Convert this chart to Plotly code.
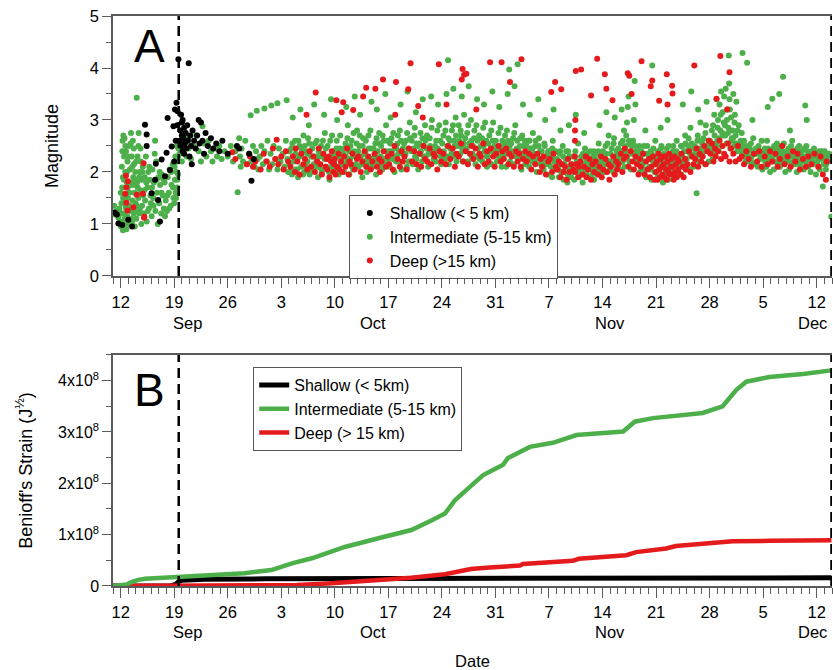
import pandas as pd
import plotly.graph_objects as go

BASE = pd.Timestamp("2021-09-11")

# ---------- Panel A: (days since 2021-09-11 00:00, magnitude) ----------
shallow_pts = [
    (0.2, 1.22), (0.5, 1.18), (0.7, 1.01), (1.2, 0.98), (2.5, 0.95), (2.0, 1.08),
    (4.18, 2.91), (4.4, 2.72), (4.4, 2.5), (5.05, 1.59), (5.5, 1.85), (5.6, 2.16),
    (5.9, 1.46), (6.14, 1.05), (6.36, 2.24), (6.8, 1.92), (7.0, 2.37), (7.14, 3.04),
    (7.45, 2.04), (7.67, 2.49), (7.9, 2.88), (8.0, 2.2), (8.1, 3.2), (8.2, 2.6),
    (8.3, 3.33), (8.4, 2.9), (8.45, 3.17), (8.55, 4.17),
    (8.7, 2.6), (8.8, 2.8), (8.9, 3.1), (8.9, 2.5), (9.0, 2.95), (9.0, 2.7),
    (9.1, 2.4), (9.1, 3.0), (9.2, 2.65), (9.3, 2.85), (9.3, 2.35), (9.4, 2.55),
    (9.5, 2.75), (9.6, 2.45), (9.7, 2.9), (9.8, 2.6), (9.9, 4.09), (10.0, 2.3),
    (10.1, 2.7), (10.2, 2.5), (10.3, 2.15), (10.4, 2.8), (10.6, 2.6), (10.8, 2.45),
    (11.0, 2.7), (11.2, 3.0), (11.3, 2.55), (11.5, 2.95), (11.7, 2.6), (11.9, 2.35),
    (12.1, 2.75), (12.4, 2.5), (12.8, 2.65), (13.1, 2.45), (13.5, 2.55), (13.9, 2.4),
    (14.3, 2.6), (15.0, 2.35), (16.2, 2.5), (16.5, 2.45), (17.8, 2.35), (18.1, 1.83),
    (18.4, 2.25),
]

intermediate_pts = [
    (0.15, 1.35), (0.3, 1.18), (0.5, 1.25), (0.7, 1.12), (0.85, 1.3), (0.95, 1.05),
    (1.05, 0.95), (1.1, 1.4), (1.15, 2.1), (1.2, 1.7), (1.25, 2.6), (1.3, 0.88),
    (1.3, 1.9), (1.35, 2.7), (1.4, 1.2), (1.45, 2.3), (1.5, 1.55), (1.5, 2.65),
    (1.55, 1.0), (1.6, 2.0), (1.65, 1.35), (1.7, 2.4), (1.75, 0.9), (1.8, 1.8),
    (1.85, 1.15), (1.9, 2.2), (1.95, 1.5),
    (1.02, 1.6), (1.12, 1.2), (1.22, 2.4), (1.32, 1.5), (1.42, 1.85), (1.52, 1.1),
    (1.62, 2.5), (1.72, 1.3), (1.82, 2.0), (1.92, 1.7),
    (2.05, 1.0), (2.1, 2.5), (2.15, 1.6), (2.2, 2.05), (2.3, 1.25), (2.35, 2.75),
    (2.4, 1.8), (2.45, 2.3), (2.5, 1.05), (2.55, 1.45), (2.6, 2.6), (2.65, 1.9),
    (2.7, 1.2), (2.75, 2.15), (2.8, 1.6), (2.85, 0.95), (2.9, 2.0), (2.95, 1.4),
    (2.02, 2.3), (2.12, 1.35), (2.22, 1.75), (2.32, 2.55), (2.42, 1.1), (2.52, 2.1),
    (2.62, 1.75), (2.72, 2.45), (2.82, 1.85), (2.92, 1.25),
    (3.05, 1.1), (3.1, 3.43), (3.15, 1.8), (3.2, 2.3), (3.3, 1.5), (3.35, 2.75),
    (3.4, 1.2), (3.5, 2.0), (3.55, 1.65), (3.6, 2.45), (3.7, 1.0), (3.75, 1.85),
    (3.8, 1.35), (3.9, 2.1), (3.95, 1.55),
    (3.02, 2.2), (3.12, 1.35), (3.22, 1.7), (3.32, 2.5), (3.42, 1.9), (3.52, 1.3),
    (3.62, 2.2), (3.72, 1.6), (3.82, 2.0), (3.92, 1.2),
    (4.05, 1.2), (4.15, 1.9), (4.2, 1.45), (4.3, 2.3), (4.4, 1.05), (4.5, 1.7),
    (4.6, 2.0), (4.7, 1.3), (4.8, 1.85), (4.9, 1.55),
    (4.1, 1.65), (4.35, 1.8), (4.55, 1.25), (4.75, 2.1), (4.95, 1.4),
    (5.05, 1.15), (5.15, 2.05), (5.25, 1.5), (5.35, 1.8), (5.5, 2.6), (5.55, 1.25),
    (5.65, 2.2), (5.75, 1.6), (5.85, 1.0), (5.95, 1.9),
    (5.1, 1.7), (5.3, 1.35), (5.45, 2.35), (5.7, 1.85), (5.9, 1.45),
    (6.05, 1.4), (6.15, 1.75), (6.3, 1.2), (6.4, 1.95), (6.5, 1.55), (6.65, 1.3),
    (6.75, 1.8), (6.9, 1.45), (6.1, 2.0), (6.35, 1.6), (6.6, 1.85), (6.8, 1.15),
    (7.05, 1.25), (7.15, 1.9), (7.3, 1.6), (7.4, 2.05), (7.55, 1.35), (7.65, 1.75),
    (7.8, 2.15), (7.9, 1.5), (7.1, 1.55), (7.35, 1.3), (7.6, 2.0), (7.85, 1.7),
    (8.0, 1.4), (8.1, 1.85), (8.15, 2.3), (8.2, 1.6), (8.3, 2.0), (8.35, 2.5),
    (8.4, 1.7), (8.45, 2.2), (8.5, 1.95), (8.55, 2.45),
    (8.05, 2.1), (8.25, 1.5), (8.42, 1.85), (8.52, 2.3),
    (8.7, 2.35), (8.8, 2.55), (9.0, 2.2), (9.2, 2.45), (9.4, 2.6), (9.6, 2.3),
    (9.8, 2.65), (9.9, 2.45),
    (10.2, 2.25), (10.5, 2.5), (10.9, 2.7), (11.2, 2.4), (11.5, 2.2), (11.7, 2.88),
    (11.9, 2.55), (12.2, 2.3), (12.5, 2.6), (12.8, 2.4), (13.0, 2.2),
    (13.3, 2.45), (13.6, 2.3), (13.9, 2.5), (14.2, 2.25), (14.6, 2.4), (15.0, 2.3),
    (15.4, 2.5), (15.7, 2.2), (16.0, 2.4), (16.3, 1.61), (16.5, 2.65),
    (16.6, 2.3), (16.7, 2.1), (16.8, 2.45), (17.0, 2.2), (17.3, 2.6), (17.5, 2.15),
    (17.8, 2.35), (18.0, 3.09), (18.1, 2.2), (18.3, 2.5), (18.5, 2.1), (18.7, 2.4),
    (18.8, 3.18), (18.9, 2.25),
    (19.0, 2.05), (19.2, 2.3), (19.4, 2.5), (19.8, 3.22), (19.6, 2.15), (19.8, 2.4),
    (20.0, 2.2), (20.2, 2.6), (20.7, 3.28), (20.4, 2.05), (20.6, 2.35), (20.8, 2.15),
    (21.0, 2.5), (21.5, 3.32), (21.3, 2.25), (21.5, 2.05), (21.7, 2.45), (21.9, 2.2),
    (22.7, 3.38), (22.2, 2.35), (22.4, 2.1), (22.6, 2.6), (22.8, 2.25), (22.9, 2.0),
    (23.1, 2.15), (23.3, 2.45), (23.4, 1.95), (23.6, 2.3), (23.8, 2.6), (23.9, 2.05), (23.5, 3.05),
    (24.1, 2.25), (24.2, 1.9), (24.4, 2.5), (24.6, 2.1), (24.7, 2.35), (24.9, 2.7), (24.5, 3.2),
    (25.0, 2.0), (25.2, 2.4), (25.4, 2.2), (25.5, 2.65), (25.7, 1.95), (25.9, 2.3), (25.6, 2.9),
    (26.1, 2.3), (26.2, 2.05), (26.4, 2.55), (26.6, 2.2), (26.8, 1.9), (26.9, 2.4), (26.3, 3.3),
    (27.0, 2.15), (27.2, 2.5), (27.3, 2.0), (27.5, 2.35), (27.7, 2.75), (27.9, 2.1), (27.6, 3.1),
    (28.1, 2.25), (28.3, 1.85), (28.4, 2.6), (28.6, 2.1), (28.8, 2.4), (28.9, 2.2), (28.5, 3.4),
    (29.0, 2.05), (29.2, 2.45), (29.4, 2.3), (29.5, 1.95), (29.7, 2.7), (29.9, 2.15), (29.3, 3.0),
    (30.1, 2.35), (30.2, 2.0), (30.4, 2.55), (30.6, 2.2), (30.7, 2.9), (30.9, 1.95), (30.5, 3.25),
    (31.0, 2.25), (31.2, 2.6), (31.4, 2.05), (31.5, 2.4), (31.7, 2.15), (31.9, 2.8), (31.6, 3.45),
    (32.1, 2.1), (32.2, 2.5), (32.4, 2.3), (32.6, 1.9), (32.7, 2.65), (32.9, 2.2), (32.3, 3.1),
    (33.0, 2.35), (33.2, 2.0), (33.4, 2.7), (33.5, 2.15), (33.7, 2.45), (33.9, 2.25), (33.8, 3.35),
    (34.1, 2.2), (34.3, 2.55), (34.4, 1.95), (34.6, 2.4), (34.8, 2.75), (34.9, 2.1), (34.5, 3.2),
    (35.0, 2.3), (35.2, 2.05), (35.4, 2.6), (35.5, 2.25), (35.7, 2.9), (35.9, 2.15), (35.6, 3.5),
    (36.1, 2.4), (36.2, 2.1), (36.4, 2.65), (36.6, 2.25), (36.8, 2.0), (36.9, 2.5), (36.3, 3.05),
    (37.0, 2.2), (37.2, 2.55), (37.3, 2.35), (37.5, 2.8), (37.7, 2.05), (37.9, 2.45), (37.6, 3.3),
    (38.1, 2.3), (38.3, 2.6), (38.4, 2.1), (38.6, 2.45), (38.8, 2.95), (38.9, 2.2), (38.5, 3.55),
    (39.0, 2.4), (39.2, 2.15), (39.4, 2.7), (39.5, 2.3), (39.7, 2.55), (39.9, 2.05), (39.6, 3.15),
    (40.1, 2.35), (40.2, 2.75), (40.4, 2.2), (40.6, 2.5), (40.8, 2.9), (40.9, 2.3), (40.5, 3.4),
    (41.0, 2.45), (41.2, 2.1), (41.4, 2.65), (41.5, 2.35), (41.7, 3.0), (41.9, 2.25), (41.6, 3.45),
    (42.1, 2.5), (42.2, 2.2), (42.4, 2.8), (42.6, 2.4), (42.8, 2.6), (42.9, 2.15), (42.5, 3.3),
    (43.0, 2.35), (43.2, 2.7), (43.4, 2.25), (43.5, 2.95), (43.7, 2.5), (43.8, 4.15), (43.9, 2.15), (43.6, 3.5),
    (44.1, 2.45), (44.3, 2.8), (44.4, 2.3), (44.6, 2.6), (44.8, 3.05), (44.9, 2.2), (44.5, 3.6),
    (45.0, 2.5), (45.2, 2.9), (45.4, 2.35), (45.5, 2.7), (45.7, 2.2), (45.9, 3.1), (45.6, 3.45),
    (46.1, 2.4), (46.3, 2.75), (46.4, 2.2), (46.6, 2.55), (46.8, 3.0), (46.9, 2.3), (46.5, 3.65),
    (47.0, 2.35), (47.2, 2.65), (47.4, 2.15), (47.5, 2.9), (47.7, 2.45), (47.9, 2.25), (47.6, 3.4),
    (48.1, 2.5), (48.3, 2.2), (48.4, 2.85), (48.6, 2.4), (48.8, 2.6), (48.9, 2.1), (48.5, 3.3),
    (49.0, 2.3), (49.2, 2.7), (49.4, 2.45), (49.5, 2.15), (49.7, 2.95), (49.9, 2.35), (49.6, 3.55),
    (50.1, 2.4), (50.2, 2.2), (50.4, 2.75), (50.6, 2.5), (50.8, 2.1), (50.9, 2.6), (50.5, 3.25),
    (51.0, 2.3), (51.2, 2.55), (51.4, 2.1), (51.5, 2.8), (51.7, 2.4), (51.8, 3.97), (51.9, 2.2), (51.6, 3.5),
    (52.1, 2.35), (52.3, 2.65), (52.4, 2.15), (52.6, 2.9), (52.8, 2.45), (52.9, 4.07), (52.5, 3.65),
    (53.0, 2.25), (53.2, 2.5), (53.4, 2.05), (53.5, 2.7), (53.7, 2.35), (53.9, 2.15), (53.6, 3.3),
    (54.1, 2.3), (54.3, 2.6), (54.4, 2.1), (54.6, 2.45), (54.8, 2.2), (54.9, 2.75), (54.5, 3.1),
    (55.0, 2.2), (55.2, 2.5), (55.4, 2.0), (55.5, 2.35), (55.7, 2.65), (55.9, 2.15), (55.6, 3.4),
    (56.1, 2.25), (56.3, 2.05), (56.4, 2.55), (56.6, 2.3), (56.8, 1.95), (56.9, 2.4), (56.5, 3.0),
    (57.0, 2.15), (57.2, 2.4), (57.4, 1.9), (57.5, 2.6), (57.7, 2.2), (57.9, 2.05), (57.6, 3.2),
    (58.1, 2.1), (58.3, 1.9), (58.4, 2.35), (58.6, 2.0), (58.8, 2.5), (58.9, 1.85), (58.5, 2.8),
    (59.0, 2.0), (59.2, 2.25), (59.4, 1.8), (59.5, 2.4), (59.7, 2.05), (59.9, 1.9), (59.6, 2.9),
    (60.1, 2.15), (60.3, 1.85), (60.4, 2.3), (60.6, 2.0), (60.8, 2.55), (60.9, 1.9), (60.5, 3.1),
    (61.0, 2.05), (61.2, 2.3), (61.4, 1.8), (61.5, 2.15), (61.7, 2.45), (61.9, 1.95), (61.6, 2.75),
    (62.1, 2.2), (62.3, 1.9), (62.4, 2.4), (62.6, 2.05), (62.8, 2.3), (62.9, 1.85),
    (63.0, 2.1), (63.2, 2.35), (63.4, 1.95), (63.5, 2.55), (63.7, 2.2), (63.9, 2.0), (63.6, 2.9),
    (64.1, 2.25), (64.3, 2.0), (64.4, 2.5), (64.6, 2.15), (64.8, 2.7), (64.9, 2.05), (64.5, 3.15),
    (65.0, 2.2), (65.2, 2.45), (65.4, 2.0), (65.5, 2.65), (65.7, 2.3), (65.9, 2.1), (65.6, 3.05),
    (66.1, 2.3), (66.3, 2.05), (66.4, 2.55), (66.6, 2.2), (66.8, 2.8), (66.9, 2.1), (66.5, 3.2),
    (67.0, 2.4), (67.1, 2.7), (67.2, 2.95), (67.3, 3.25), (67.4, 3.45), (67.5, 2.2), (67.6, 2.55),
    (67.7, 2.05), (67.9, 2.35),
    (68.0, 2.6), (68.1, 3.0), (68.2, 3.75), (68.3, 3.3), (68.4, 2.4), (68.6, 2.15), (68.8, 2.5), (68.9, 2.0),
    (69.0, 2.25), (69.2, 2.05), (69.4, 2.5), (69.5, 2.2), (69.7, 1.9), (69.9, 2.35), (69.6, 2.8),
    (70.1, 2.1), (70.3, 2.4), (70.4, 1.85), (70.5, 4.05), (70.6, 2.2), (70.8, 2.0), (70.9, 2.6),
    (71.0, 2.15), (71.2, 1.9), (71.4, 2.35), (71.5, 2.05), (71.7, 2.5), (71.9, 1.8), (71.6, 2.85),
    (72.1, 2.2), (72.3, 2.0), (72.4, 2.45), (72.6, 1.85), (72.8, 2.3), (72.9, 2.05), (72.5, 3.0),
    (73.0, 2.1), (73.2, 2.4), (73.4, 1.9), (73.5, 2.25), (73.7, 2.6), (73.9, 2.0),
    (74.1, 2.15), (74.3, 1.95), (74.4, 2.5), (74.6, 2.2), (74.8, 2.7), (74.9, 2.05), (74.5, 3.3),
    (75.0, 2.25), (75.2, 2.5), (75.4, 2.05), (75.5, 2.85), (75.6, 3.55), (75.7, 2.3), (75.9, 2.1),
    (76.1, 2.35), (76.3, 1.59), (76.4, 2.6), (76.6, 2.2), (76.8, 2.95), (76.9, 2.4), (76.5, 3.2),
    (77.0, 2.3), (77.2, 2.65), (77.4, 2.15), (77.5, 2.9), (77.7, 2.4), (77.9, 2.2), (77.6, 3.35),
    (78.1, 2.45), (78.3, 2.8), (78.4, 2.25), (78.6, 3.1), (78.8, 2.55), (78.9, 3.4), (78.5, 2.35),
    (79.0, 2.6), (79.1, 3.0), (79.2, 2.4), (79.3, 3.3), (79.4, 2.8), (79.5, 3.55), (79.6, 2.5),
    (79.7, 3.15), (79.8, 2.7), (79.9, 3.45),
    (80.0, 2.9), (80.1, 3.6), (80.2, 2.55), (80.3, 3.2), (80.4, 2.75), (80.5, 4.24), (80.6, 3.4),
    (80.7, 2.45), (80.8, 3.05), (80.9, 2.65), (80.55, 3.7),
    (81.0, 2.8), (81.1, 3.5), (81.2, 2.5), (81.3, 3.1), (81.4, 2.7), (81.5, 3.35), (81.6, 2.4),
    (81.8, 2.9), (81.9, 2.55),
    (82.0, 2.45), (82.2, 2.75), (82.3, 4.29), (82.4, 2.35), (82.5, 2.6), (82.7, 2.2), (82.9, 4.1), (82.8, 2.5),
    (83.0, 2.4), (83.2, 2.2), (83.4, 2.55), (83.5, 2.3), (83.7, 2.65), (83.9, 2.15), (83.6, 3.0),
    (84.1, 2.35), (84.3, 2.1), (84.4, 2.5), (84.6, 2.25), (84.8, 2.6), (84.9, 2.05),
    (85.0, 2.3), (85.2, 2.45), (85.4, 2.1), (85.5, 2.6), (85.7, 2.25), (85.9, 2.0), (85.6, 3.25),
    (86.1, 2.2), (86.2, 3.41), (86.3, 2.45), (86.4, 2.05), (86.6, 2.35), (86.8, 2.55), (86.9, 2.15),
    (87.0, 2.3), (87.1, 3.5), (87.2, 2.1), (87.4, 2.4), (87.6, 3.83), (87.5, 2.2), (87.7, 2.55), (87.9, 2.0),
    (88.1, 2.25), (88.3, 2.45), (88.4, 2.05), (88.6, 2.3), (88.8, 2.6), (88.9, 2.15), (88.5, 2.8),
    (89.0, 2.2), (89.2, 2.4), (89.4, 2.0), (89.5, 2.3), (89.7, 2.5), (89.9, 2.1),
    (90.1, 2.3), (90.3, 2.05), (90.4, 2.45), (90.5, 3.28), (90.6, 2.2), (90.7, 3.0), (90.8, 2.4), (90.9, 2.1),
    (91.0, 2.25), (91.2, 2.0), (91.4, 2.4), (91.5, 2.15), (91.7, 2.35), (91.9, 1.95),
    (92.1, 2.2), (92.3, 2.4), (92.4, 2.05), (92.6, 2.3), (92.8, 1.72), (92.9, 2.15),
    (93.0, 2.25), (93.2, 2.05), (93.4, 2.3), (93.9, 1.14),
    # denser core of the band
    (23.05, 2.4), (23.25, 2.0), (23.45, 2.55), (23.65, 2.2), (23.85, 2.35),
    (24.05, 2.05), (24.25, 2.6), (24.45, 2.3), (24.65, 2.45), (24.85, 1.95),
    (25.05, 2.5), (25.25, 2.1), (25.45, 2.35), (25.65, 2.55), (25.85, 2.0),
    (26.05, 2.45), (26.25, 2.15), (26.45, 2.3), (26.65, 2.6), (26.85, 2.1),
    (27.05, 2.3), (27.25, 2.05), (27.45, 2.6), (27.65, 2.25), (27.85, 2.45),
    (28.05, 2.5), (28.25, 2.0), (28.45, 2.3), (28.65, 2.7), (28.85, 2.15),
    (29.05, 2.35), (29.25, 2.6), (29.45, 2.1), (29.65, 2.45), (29.85, 2.25),
    (30.05, 2.15), (30.25, 2.45), (30.45, 2.3), (30.65, 2.65), (30.85, 2.4),
    (31.05, 2.5), (31.25, 2.1), (31.45, 2.75), (31.65, 2.3), (31.85, 2.55),
    (32.05, 2.4), (32.25, 2.7), (32.45, 2.15), (32.65, 2.5), (32.85, 2.35),
    (33.05, 2.6), (33.25, 2.25), (33.45, 2.45), (33.65, 2.8), (33.85, 2.1),
    (34.05, 2.45), (34.25, 2.3), (34.45, 2.65), (34.65, 2.2), (34.85, 2.55),
    (35.05, 2.5), (35.25, 2.7), (35.45, 2.15), (35.65, 2.4), (35.85, 2.6),
    (36.05, 2.25), (36.25, 2.55), (36.45, 2.4), (36.65, 2.75), (36.85, 2.3),
    (37.05, 2.45), (37.25, 2.7), (37.45, 2.2), (37.65, 2.6), (37.85, 2.35),
    (38.05, 2.55), (38.25, 2.35), (38.45, 2.75), (38.65, 2.2), (38.85, 2.65),
    (39.05, 2.6), (39.25, 2.45), (39.45, 2.85), (39.65, 2.25), (39.85, 2.5),
    (40.05, 2.55), (40.25, 2.4), (40.45, 2.65), (40.65, 2.3), (40.85, 2.6),
    (41.05, 2.7), (41.25, 2.35), (41.45, 2.5), (41.65, 2.85), (41.85, 2.4),
    (42.05, 2.35), (42.25, 2.6), (42.45, 2.45), (42.65, 2.9), (42.85, 2.3),
    (43.05, 2.55), (43.25, 2.4), (43.45, 2.8), (43.65, 2.3), (43.85, 2.65),
    (44.05, 2.6), (44.25, 2.35), (44.45, 2.9), (44.65, 2.5), (44.85, 2.7),
    (45.05, 2.3), (45.25, 2.6), (45.45, 2.8), (45.65, 2.45), (45.85, 2.55),
    (46.05, 2.65), (46.25, 2.45), (46.45, 2.9), (46.65, 2.35), (46.85, 2.6),
    (47.05, 2.5), (47.25, 2.8), (47.45, 2.3), (47.65, 2.6), (47.85, 2.7),
    (48.05, 2.35), (48.25, 2.65), (48.45, 2.5), (48.65, 2.95), (48.85, 2.3),
    (49.05, 2.55), (49.25, 2.4), (49.45, 2.8), (49.65, 2.6), (49.85, 2.5),
    (50.05, 2.6), (50.25, 2.45), (50.45, 2.3), (50.65, 2.85), (50.85, 2.4),
    (51.05, 2.45), (51.25, 2.7), (51.45, 2.35), (51.65, 2.6), (51.85, 2.5),
    (52.05, 2.55), (52.25, 2.4), (52.45, 2.75), (52.65, 2.3), (52.85, 2.6),
    (53.05, 2.4), (53.25, 2.65), (53.45, 2.3), (53.65, 2.5), (53.85, 2.6),
    (54.05, 2.5), (54.25, 2.35), (54.45, 2.6), (54.65, 2.25), (54.85, 2.45),
    (55.05, 2.35), (55.25, 2.6), (55.45, 2.25), (55.65, 2.5), (55.85, 2.4),
    (56.05, 2.4), (56.25, 2.2), (56.45, 2.5), (56.65, 2.15), (56.85, 2.35),
    (57.05, 2.3), (57.25, 2.1), (57.45, 2.45), (57.65, 2.25), (57.85, 2.4),
    (58.05, 2.25), (58.25, 2.05), (58.45, 2.4), (58.65, 2.15), (58.85, 2.3),
    (59.05, 2.15), (59.25, 2.4), (59.45, 1.95), (59.65, 2.3), (59.85, 2.1),
    (60.05, 2.3), (60.25, 2.0), (60.45, 2.4), (60.65, 2.2), (60.85, 2.05),
    (61.05, 2.2), (61.25, 1.95), (61.45, 2.35), (61.65, 2.05), (61.85, 2.25),
    (62.05, 2.35), (62.25, 2.1), (62.45, 2.2), (62.65, 1.95), (62.85, 2.4),
    (63.05, 2.25), (63.25, 2.05), (63.45, 2.4), (63.65, 2.15), (63.85, 2.3),
    (64.05, 2.4), (64.25, 2.15), (64.45, 2.35), (64.65, 2.55), (64.85, 2.2),
    (65.05, 2.35), (65.25, 2.15), (65.45, 2.55), (65.65, 2.25), (65.85, 2.4),
    (66.05, 2.45), (66.25, 2.2), (66.45, 2.4), (66.65, 2.6), (66.85, 2.3),
    (67.05, 2.5), (67.25, 2.3), (67.45, 2.6), (67.65, 2.4), (67.85, 2.5),
    (68.05, 2.35), (68.25, 2.5), (68.45, 2.25), (68.65, 2.4), (68.85, 2.3),
    (69.05, 2.4), (69.25, 2.15), (69.45, 2.35), (69.65, 2.05), (69.85, 2.5),
    (70.05, 2.3), (70.25, 2.05), (70.45, 2.35), (70.65, 2.45), (70.85, 2.25),
    (71.05, 2.3), (71.25, 2.4), (71.45, 2.2), (71.65, 2.45), (71.85, 2.1),
    (72.05, 2.35), (72.25, 2.15), (72.45, 2.3), (72.65, 2.5), (72.85, 2.2),
    (73.05, 2.3), (73.25, 2.5), (73.45, 2.15), (73.65, 2.4), (73.85, 2.35),
    (74.05, 2.35), (74.25, 2.5), (74.45, 2.3), (74.65, 2.4), (74.85, 2.55),
    (75.05, 2.4), (75.25, 2.65), (75.45, 2.35), (75.65, 2.55), (75.85, 2.45),
    (76.05, 2.5), (76.25, 2.3), (76.45, 2.7), (76.65, 2.45), (76.85, 2.6),
    (77.05, 2.55), (77.25, 2.4), (77.45, 2.75), (77.65, 2.5), (77.85, 2.6),
    (78.05, 2.6), (78.25, 2.45), (78.45, 2.9), (78.65, 2.7), (78.85, 2.5),
    (79.05, 2.85), (79.25, 2.65), (79.45, 3.1), (79.65, 2.75), (79.85, 2.95),
    (80.05, 2.7), (80.25, 3.0), (80.45, 2.85), (80.65, 3.2), (80.85, 2.6),
    (81.05, 2.65), (81.25, 2.95), (81.45, 2.55), (81.65, 2.8), (81.85, 2.45),
    (82.05, 2.6), (82.25, 2.35), (82.45, 2.5), (82.65, 2.4), (82.85, 2.3),
    (83.05, 2.3), (83.25, 2.45), (83.45, 2.2), (83.65, 2.4), (83.85, 2.35),
    (84.05, 2.45), (84.25, 2.2), (84.45, 2.35), (84.65, 2.4), (84.85, 2.3),
    (85.05, 2.4), (85.25, 2.2), (85.45, 2.35), (85.65, 2.45), (85.85, 2.3),
    (86.05, 2.35), (86.25, 2.3), (86.45, 2.5), (86.65, 2.2), (86.85, 2.4),
    (87.05, 2.45), (87.25, 2.3), (87.45, 2.5), (87.65, 2.35), (87.85, 2.25),
    (88.05, 2.4), (88.25, 2.2), (88.45, 2.35), (88.65, 2.5), (88.85, 2.3),
    (89.05, 2.35), (89.25, 2.15), (89.45, 2.45), (89.65, 2.2), (89.85, 2.35),
    (90.05, 2.4), (90.25, 2.2), (90.45, 2.3), (90.65, 2.5), (90.85, 2.25),
    (91.05, 2.35), (91.25, 2.3), (91.45, 2.2), (91.65, 2.45), (91.85, 2.3),
    (92.05, 2.35), (92.25, 2.1), (92.45, 2.25), (92.65, 2.4), (92.85, 2.3),
    (93.05, 2.4), (93.25, 2.15), (93.45, 2.2), (93.65, 2.35),
]

deep_pts = [
    (1.7, 1.93), (1.75, 1.70), (1.6, 1.58), (1.75, 1.41), (1.9, 1.26), (2.66, 1.32),
    (1.95, 1.82), (3.1, 1.56), (3.9, 1.58), (4.0, 2.17), (4.1, 1.14), (4.05, 1.12),
    (15.6, 2.38), (16.0, 2.25), (17.5, 2.15), (17.9, 2.3), (18.3, 2.1), (18.6, 2.2),
    (19.3, 2.05), (19.7, 2.35), (20.1, 2.2), (20.5, 2.1), (20.9, 2.45), (21.2, 2.25),
    (21.4, 2.62), (21.6, 2.15), (22.0, 2.3), (22.3, 2.05), (22.6, 2.4), (22.9, 2.2),
    (23.2, 2.1), (23.5, 2.3), (23.8, 2.0), (23.9, 2.45),
    (24.1, 2.2), (24.4, 1.95), (24.6, 2.35), (24.9, 2.15),
    (25.1, 2.25), (25.3, 3.1), (25.4, 2.05), (25.7, 2.4), (25.9, 2.1),
    (26.2, 2.3), (26.5, 3.53), (26.4, 2.0), (26.7, 2.2), (26.9, 2.45),
    (27.1, 2.15), (27.3, 1.95), (27.5, 2.35), (27.8, 2.1), (27.9, 2.25),
    (28.0, 2.05), (28.2, 2.3), (28.3, 1.9), (28.5, 2.2), (28.6, 2.4), (28.8, 2.0), (28.9, 2.15),
    (29.0, 2.25), (29.1, 1.95), (29.2, 3.38), (29.3, 2.1), (29.5, 2.35), (29.6, 2.05), (29.8, 2.2), (29.9, 3.15),
    (30.0, 2.0), (30.1, 3.34), (30.2, 2.3), (30.4, 2.1), (30.6, 2.45), (30.8, 1.95), (30.9, 2.2),
    (31.1, 2.15), (31.3, 2.35), (31.4, 3.19), (31.6, 2.05), (31.9, 2.25),
    (32.1, 2.3), (32.4, 2.0), (32.7, 3.45), (32.6, 2.2), (32.9, 2.4),
    (33.1, 2.1), (33.1, 3.62), (33.4, 2.3), (33.7, 2.05), (33.9, 2.2),
    (34.2, 2.35), (34.3, 3.6), (34.5, 2.1), (34.8, 2.25), (34.9, 2.0),
    (35.1, 2.2), (35.3, 3.78), (35.4, 2.4), (35.7, 2.1), (35.9, 2.3),
    (36.1, 2.15), (36.4, 2.35), (36.6, 2.05), (36.8, 2.5), (36.9, 3.1),
    (37.0, 3.73), (37.2, 2.25), (37.5, 2.1), (37.7, 2.4), (37.9, 2.2),
    (38.1, 2.3), (38.4, 2.05), (38.6, 3.59), (38.7, 2.45), (38.9, 4.09),
    (39.1, 2.2), (39.4, 2.4), (39.7, 2.15), (39.9, 3.27),
    (40.1, 2.35), (40.3, 2.1), (40.6, 2.5), (40.8, 2.25), (40.5, 3.05),
    (41.1, 2.2), (41.4, 2.45), (41.6, 2.15), (41.9, 2.35),
    (42.1, 2.3), (42.4, 2.05), (42.6, 4.07), (42.7, 2.4), (42.9, 2.2),
    (43.2, 2.35), (43.5, 2.15), (43.8, 2.5), (43.6, 3.3),
    (44.1, 2.25), (44.4, 2.45), (44.7, 2.1), (44.9, 2.35),
    (45.2, 2.3), (45.5, 2.55), (45.7, 3.98), (45.8, 2.2), (45.6, 3.78), (45.9, 3.87),
    (46.1, 2.4), (46.2, 3.89), (46.4, 2.15), (46.7, 2.35), (46.9, 2.5),
    (47.1, 2.25), (47.4, 2.45), (47.7, 2.1), (47.9, 2.35), (47.5, 3.2),
    (48.1, 2.3), (48.4, 2.55), (48.6, 2.15), (48.9, 2.4),
    (49.1, 2.2), (49.3, 4.11), (49.4, 2.45), (49.7, 2.3), (49.9, 2.1),
    (50.1, 2.35), (50.4, 2.5), (50.7, 2.2), (50.8, 4.11), (50.9, 2.4),
    (51.1, 2.25), (51.4, 2.45), (51.7, 2.15), (51.9, 3.73), (51.8, 2.35),
    (52.1, 2.3), (52.4, 2.1), (52.7, 2.4), (52.9, 2.2),
    (53.1, 2.35), (53.4, 4.17), (53.3, 2.1), (53.6, 2.25), (53.9, 2.4),
    (54.1, 2.2), (54.4, 2.35), (54.7, 2.05), (54.9, 2.3),
    (55.2, 2.15), (55.5, 2.35), (55.8, 2.0), (55.9, 2.25),
    (56.1, 2.1), (56.3, 2.3), (56.6, 1.95), (56.9, 2.2),
    (57.1, 2.25), (57.4, 2.0), (57.6, 2.35), (57.8, 3.73), (57.9, 2.1), (57.3, 3.54),
    (58.1, 2.05), (58.3, 2.2), (58.5, 1.9), (58.7, 2.15), (58.9, 2.0), (58.6, 3.59),
    (59.1, 2.1), (59.3, 1.85), (59.5, 2.25), (59.7, 2.0), (59.9, 2.15),
    (60.2, 2.05), (60.35, 2.3), (60.4, 2.6), (60.4, 2.8), (60.45, 3.0), (60.4, 2.0),
    (60.5, 3.94), (60.6, 2.15), (60.8, 1.9), (60.9, 2.1),
    (61.1, 2.2), (61.2, 3.97), (61.4, 1.95), (61.6, 2.1), (61.8, 2.3), (61.9, 1.9),
    (62.1, 2.05), (62.3, 2.25), (62.5, 1.85), (62.7, 2.15), (62.9, 2.0), (62.5, 3.47),
    (63.1, 2.2), (63.3, 4.18), (63.4, 1.95), (63.6, 2.1), (63.8, 2.3), (63.9, 1.9),
    (64.1, 2.05), (64.3, 3.88), (64.4, 2.25), (64.5, 3.6), (64.6, 2.0), (64.8, 2.15), (64.9, 1.85),
    (65.1, 2.1), (65.3, 3.38), (65.4, 2.3), (65.6, 1.95), (65.8, 2.2), (65.9, 2.05),
    (66.1, 2.15), (66.4, 2.35), (66.6, 2.0), (66.8, 2.25), (66.9, 2.45),
    (67.1, 2.3), (67.3, 3.9), (67.5, 3.85), (67.4, 2.1), (67.7, 2.4), (67.8, 3.5), (67.9, 2.2),
    (68.1, 2.05), (68.3, 2.3), (68.5, 2.15), (68.7, 1.95), (68.9, 2.25),
    (69.1, 4.13), (69.0, 2.1), (69.3, 2.35), (69.5, 1.95), (69.7, 2.2), (69.9, 2.05),
    (70.1, 2.25), (70.2, 1.9), (70.4, 2.1), (70.5, 3.76), (70.3, 3.65), (70.6, 2.3), (70.8, 1.85), (70.9, 2.15),
    (71.0, 2.0), (71.1, 2.2), (71.2, 1.85), (71.3, 2.35), (71.4, 2.05), (71.5, 1.9), (71.6, 2.25),
    (71.7, 2.1), (71.8, 1.95), (71.9, 2.3), (71.4, 3.37),
    (72.0, 2.15), (72.1, 1.9), (72.2, 2.3), (72.3, 2.05), (72.4, 3.88), (72.4, 1.85), (72.5, 2.2),
    (72.6, 2.0), (72.7, 2.35), (72.8, 1.95), (72.9, 2.1), (72.5, 3.3),
    (73.0, 2.25), (73.1, 3.66), (73.15, 3.51), (73.1, 1.95), (73.2, 2.1), (73.3, 1.85), (73.4, 2.3),
    (73.5, 2.0), (73.6, 2.15), (73.7, 1.9), (73.8, 2.25), (73.9, 2.05),
    (74.0, 2.2), (74.2, 1.95), (74.3, 2.35), (74.5, 2.1), (74.6, 1.9), (74.8, 2.25), (74.9, 2.05),
    (75.1, 2.15), (75.3, 2.4), (75.5, 2.0), (75.7, 2.3), (75.9, 2.15),
    (76.0, 4.05), (76.1, 2.25), (76.3, 2.45), (76.5, 2.1), (76.7, 2.35), (76.9, 2.2),
    (77.1, 2.3), (77.3, 2.5), (77.5, 2.15), (77.7, 2.4), (77.9, 2.6),
    (78.1, 2.35), (78.3, 2.55), (78.5, 2.2), (78.7, 2.45), (78.9, 3.41), (78.8, 2.3),
    (79.1, 2.4), (79.3, 2.6), (79.4, 4.23), (79.5, 2.25), (79.7, 2.5), (79.9, 2.35),
    (80.1, 2.3), (80.3, 3.2), (80.4, 2.55), (80.6, 3.92), (80.6, 2.2), (80.8, 2.45),
    (81.1, 2.35), (81.4, 2.2), (81.7, 2.5), (81.9, 2.25),
    (82.2, 2.3), (82.5, 2.15), (82.8, 2.4),
    (83.1, 2.25), (83.4, 2.1), (83.8, 2.35),
    (84.2, 2.2), (84.5, 2.4), (84.8, 2.1),
    (85.2, 2.3), (85.6, 2.15), (85.9, 2.4),
    (86.2, 2.2), (86.6, 2.35), (86.9, 2.1),
    (87.2, 2.25), (87.5, 2.5), (87.8, 2.15),
    (88.2, 2.3), (88.6, 2.1), (88.9, 2.4),
    (89.2, 2.2), (89.5, 2.35), (89.8, 2.05),
    (90.2, 2.25), (90.6, 2.1), (90.9, 2.3),
    (91.3, 2.15), (91.7, 2.35),
    (92.2, 2.1), (92.5, 2.3), (92.8, 1.95),
    (93.2, 1.85), (93.3, 2.2),
]

# ---------- Panel B: cumulative Benioff strain, (days since base, value / 1e8) ----------
strain_shallow = [(0.0, 0.0), (7.5, 0.0), (8.2, 0.03), (8.6, 0.09), (9.0, 0.11), (10.0, 0.12),
                  (12.0, 0.13), (20.0, 0.14), (40.0, 0.15), (60.0, 0.155), (93.93, 0.16)]
strain_intermediate = [(0.0, 0.0), (1.0, 0.01), (1.8, 0.03), (2.5, 0.08), (3.3, 0.12), (4.2, 0.14),
                       (8.5, 0.18), (12.9, 0.21), (17.2, 0.25), (20.7, 0.31), (23.4, 0.44),
                       (26.0, 0.54), (30.3, 0.76), (34.7, 0.93), (39.0, 1.09), (41.7, 1.28),
                       (43.4, 1.41), (44.7, 1.67), (45.6, 1.80), (46.8, 1.95), (48.4, 2.16),
                       (51.0, 2.36), (51.6, 2.49), (54.5, 2.71), (57.5, 2.79), (60.6, 2.94),
                       (66.7, 3.01), (68.2, 3.20), (70.6, 3.27), (77.1, 3.37), (79.7, 3.50),
                       (81.5, 3.82), (82.8, 3.98), (85.8, 4.07), (90.2, 4.13), (93.93, 4.20)]
strain_deep = [(0.0, 0.0), (20.0, 0.0), (24.0, 0.02), (28.1, 0.05), (34.7, 0.11), (39.0, 0.16),
               (43.4, 0.23), (46.8, 0.33), (49.2, 0.36), (53.2, 0.40), (53.6, 0.43),
               (60.1, 0.49), (60.9, 0.53), (67.1, 0.60), (68.4, 0.66), (72.3, 0.73),
               (73.6, 0.78), (79.3, 0.84), (81.0, 0.87), (85.8, 0.88), (93.93, 0.89)]

tick_dates = ["2021-09-12", "2021-09-19", "2021-09-26", "2021-10-03", "2021-10-10",
              "2021-10-17", "2021-10-24", "2021-10-31", "2021-11-07", "2021-11-14",
              "2021-11-21", "2021-11-28", "2021-12-05", "2021-12-12"]
tick_labels = ["12", "19", "26", "3", "10", "17", "24", "31", "7", "14", "21", "28", "5", "12"]
month_labels = ["Sep", "Oct", "Nov", "Dec"]
month_label_pos = ["2021-09-20 18:00", "2021-10-15 00:00", "2021-11-15 00:00", "2021-12-11 10:00"]
strain_tickvals = [0, 1e8, 2e8, 3e8, 4e8]
strain_ticktext = ["0", "1x10<sup>8</sup>", "2x10<sup>8</sup>", "3x10<sup>8</sup>", "4x10<sup>8</sup>"]

eruption_start = "2021-09-19 14:10"
eruption_end = "2021-12-13 22:21"

GREEN = "#4DAF4A"
RED = "#E41A1C"
BLACK = "#000000"
AXC = "#5a5a5a"
FONT = "Liberation Sans, Arial, Helvetica, sans-serif"


def to_dates(ts):
    return [BASE + pd.Timedelta(days=t) for t in ts]


def split(pts):
    return [p[0] for p in pts], [p[1] for p in pts]


fig = go.Figure()

for name, pts, col, rank in [("Intermediate (5-15 km)", intermediate_pts, GREEN, 2),
                             ("Deep (&gt;15 km)", deep_pts, RED, 3),
                             ("Shallow (&lt; 5 km)", shallow_pts, BLACK, 1)]:
    t, m = split(pts)
    fig.add_trace(go.Scatter(x=to_dates(t), y=m, mode="markers", name=name,
                             marker=dict(color=col, size=6, line=dict(width=0)),
                             xaxis="x", yaxis="y", legend="legend", legendrank=rank))

for name, pts, col, rank, w in [("Shallow (&lt; 5km)", strain_shallow, BLACK, 1, 5),
                                ("Deep (&gt; 15 km)", strain_deep, RED, 3, 4.5),
                                ("Intermediate (5-15 km)", strain_intermediate, GREEN, 2, 4.5)]:
    t, v = split(pts)
    fig.add_trace(go.Scatter(x=to_dates(t), y=[x * 1e8 for x in v], mode="lines", name=name,
                             line=dict(color=col, width=w),
                             xaxis="x2", yaxis="y2", legend="legend2", legendrank=rank))

xcommon = dict(
    type="date", range=["2021-09-11", "2021-12-14"],
    tickmode="array", tickvals=tick_dates, ticktext=tick_labels,
    ticks="outside", ticklen=10, tickwidth=1.2, tickcolor=AXC,
    minor=dict(tickmode="linear", tick0="2021-09-11", dtick=86400000,
               ticks="outside", ticklen=6, tickwidth=1, tickcolor=AXC),
    showline=True, linecolor=AXC, linewidth=1.5, mirror=True,
    showgrid=False, zeroline=False,
    tickfont=dict(size=16.5, color="black", family=FONT),
)

fig.update_layout(
    width=833, height=670,
    margin=dict(l=113, r=1, t=16, b=84),
    paper_bgcolor="white", plot_bgcolor="white",
    font=dict(family=FONT, color="black"),
    showlegend=True,
    xaxis=dict(domain=[0, 1], anchor="y", **xcommon),
    xaxis2=dict(domain=[0, 1], anchor="y2",
                title=dict(text="Date", font=dict(size=16.5), standoff=36), **xcommon),
    yaxis=dict(domain=[0.5439, 1.0], anchor="x", range=[0, 5], dtick=1,
               ticks="outside", ticklen=9, tickwidth=1.2, tickcolor=AXC,
               minor=dict(dtick=0.5, ticks="outside", ticklen=5, tickcolor=AXC),
               showline=True, linecolor=AXC, linewidth=1.5,
               showgrid=False, zeroline=False,
               tickfont=dict(size=16.5, color="black"),
               title=dict(text="Magnitude", font=dict(size=18), standoff=26)),
    yaxis2=dict(domain=[0, 0.4053], anchor="x2", range=[0, 4.5e8],
                tickmode="array", tickvals=strain_tickvals, ticktext=strain_ticktext,
                ticks="outside", ticklen=9, tickwidth=1.2, tickcolor=AXC,
                minor=dict(tickmode="linear", tick0=0, dtick=0.5e8, ticks="outside",
                           ticklen=5, tickcolor=AXC),
                showline=True, linecolor=AXC, linewidth=1.5,
                showgrid=False, zeroline=False,
                tickfont=dict(size=16, color="black"),
                title=dict(text="Benioff's Strain (J<sup>½</sup>)", font=dict(size=18), standoff=21)),
    legend=dict(x=0.328, y=0.686, xanchor="left", yanchor="top",
                bgcolor="white", bordercolor="#555", borderwidth=1,
                font=dict(size=16), tracegroupgap=0, itemsizing="trace"),
    legend2=dict(x=0.195, y=0.384, xanchor="left", yanchor="top",
                 bgcolor="white", bordercolor="#555", borderwidth=1,
                 font=dict(size=16), tracegroupgap=0),
)

shapes = []
for xr, yr in [("x", "y domain"), ("x2", "y2 domain")]:
    for d in [eruption_start, eruption_end]:
        shapes.append(dict(type="line", xref=xr, yref=yr, x0=d, x1=d, y0=0, y1=1,
                           line=dict(color="black", width=2.5, dash="10px,6px")))
fig.update_layout(shapes=shapes)

annotations = [
    dict(text="A", xref="paper", yref="paper", x=0.026, y=0.947, xanchor="left",
         yanchor="middle", showarrow=False, font=dict(size=46, color="black")),
    dict(text="B", xref="paper", yref="paper", x=0.026, y=0.344, xanchor="left",
         yanchor="middle", showarrow=False, font=dict(size=46, color="black")),
]
for lab, pos in zip(month_labels, month_label_pos):
    annotations.append(dict(text=lab, xref="x", yref="paper", x=pos, y=0.4614,
                            xanchor="center", yanchor="middle", showarrow=False,
                            font=dict(size=16.5, color="black")))
    annotations.append(dict(text=lab, xref="x2", yref="paper", x=pos, y=-0.0802,
                            xanchor="center", yanchor="middle", showarrow=False,
                            font=dict(size=16.5, color="black")))
fig.update_layout(annotations=annotations)

fig.write_html("out.html", config={"displayModeBar": False},
               post_script="document.body.style.margin='0px';")
